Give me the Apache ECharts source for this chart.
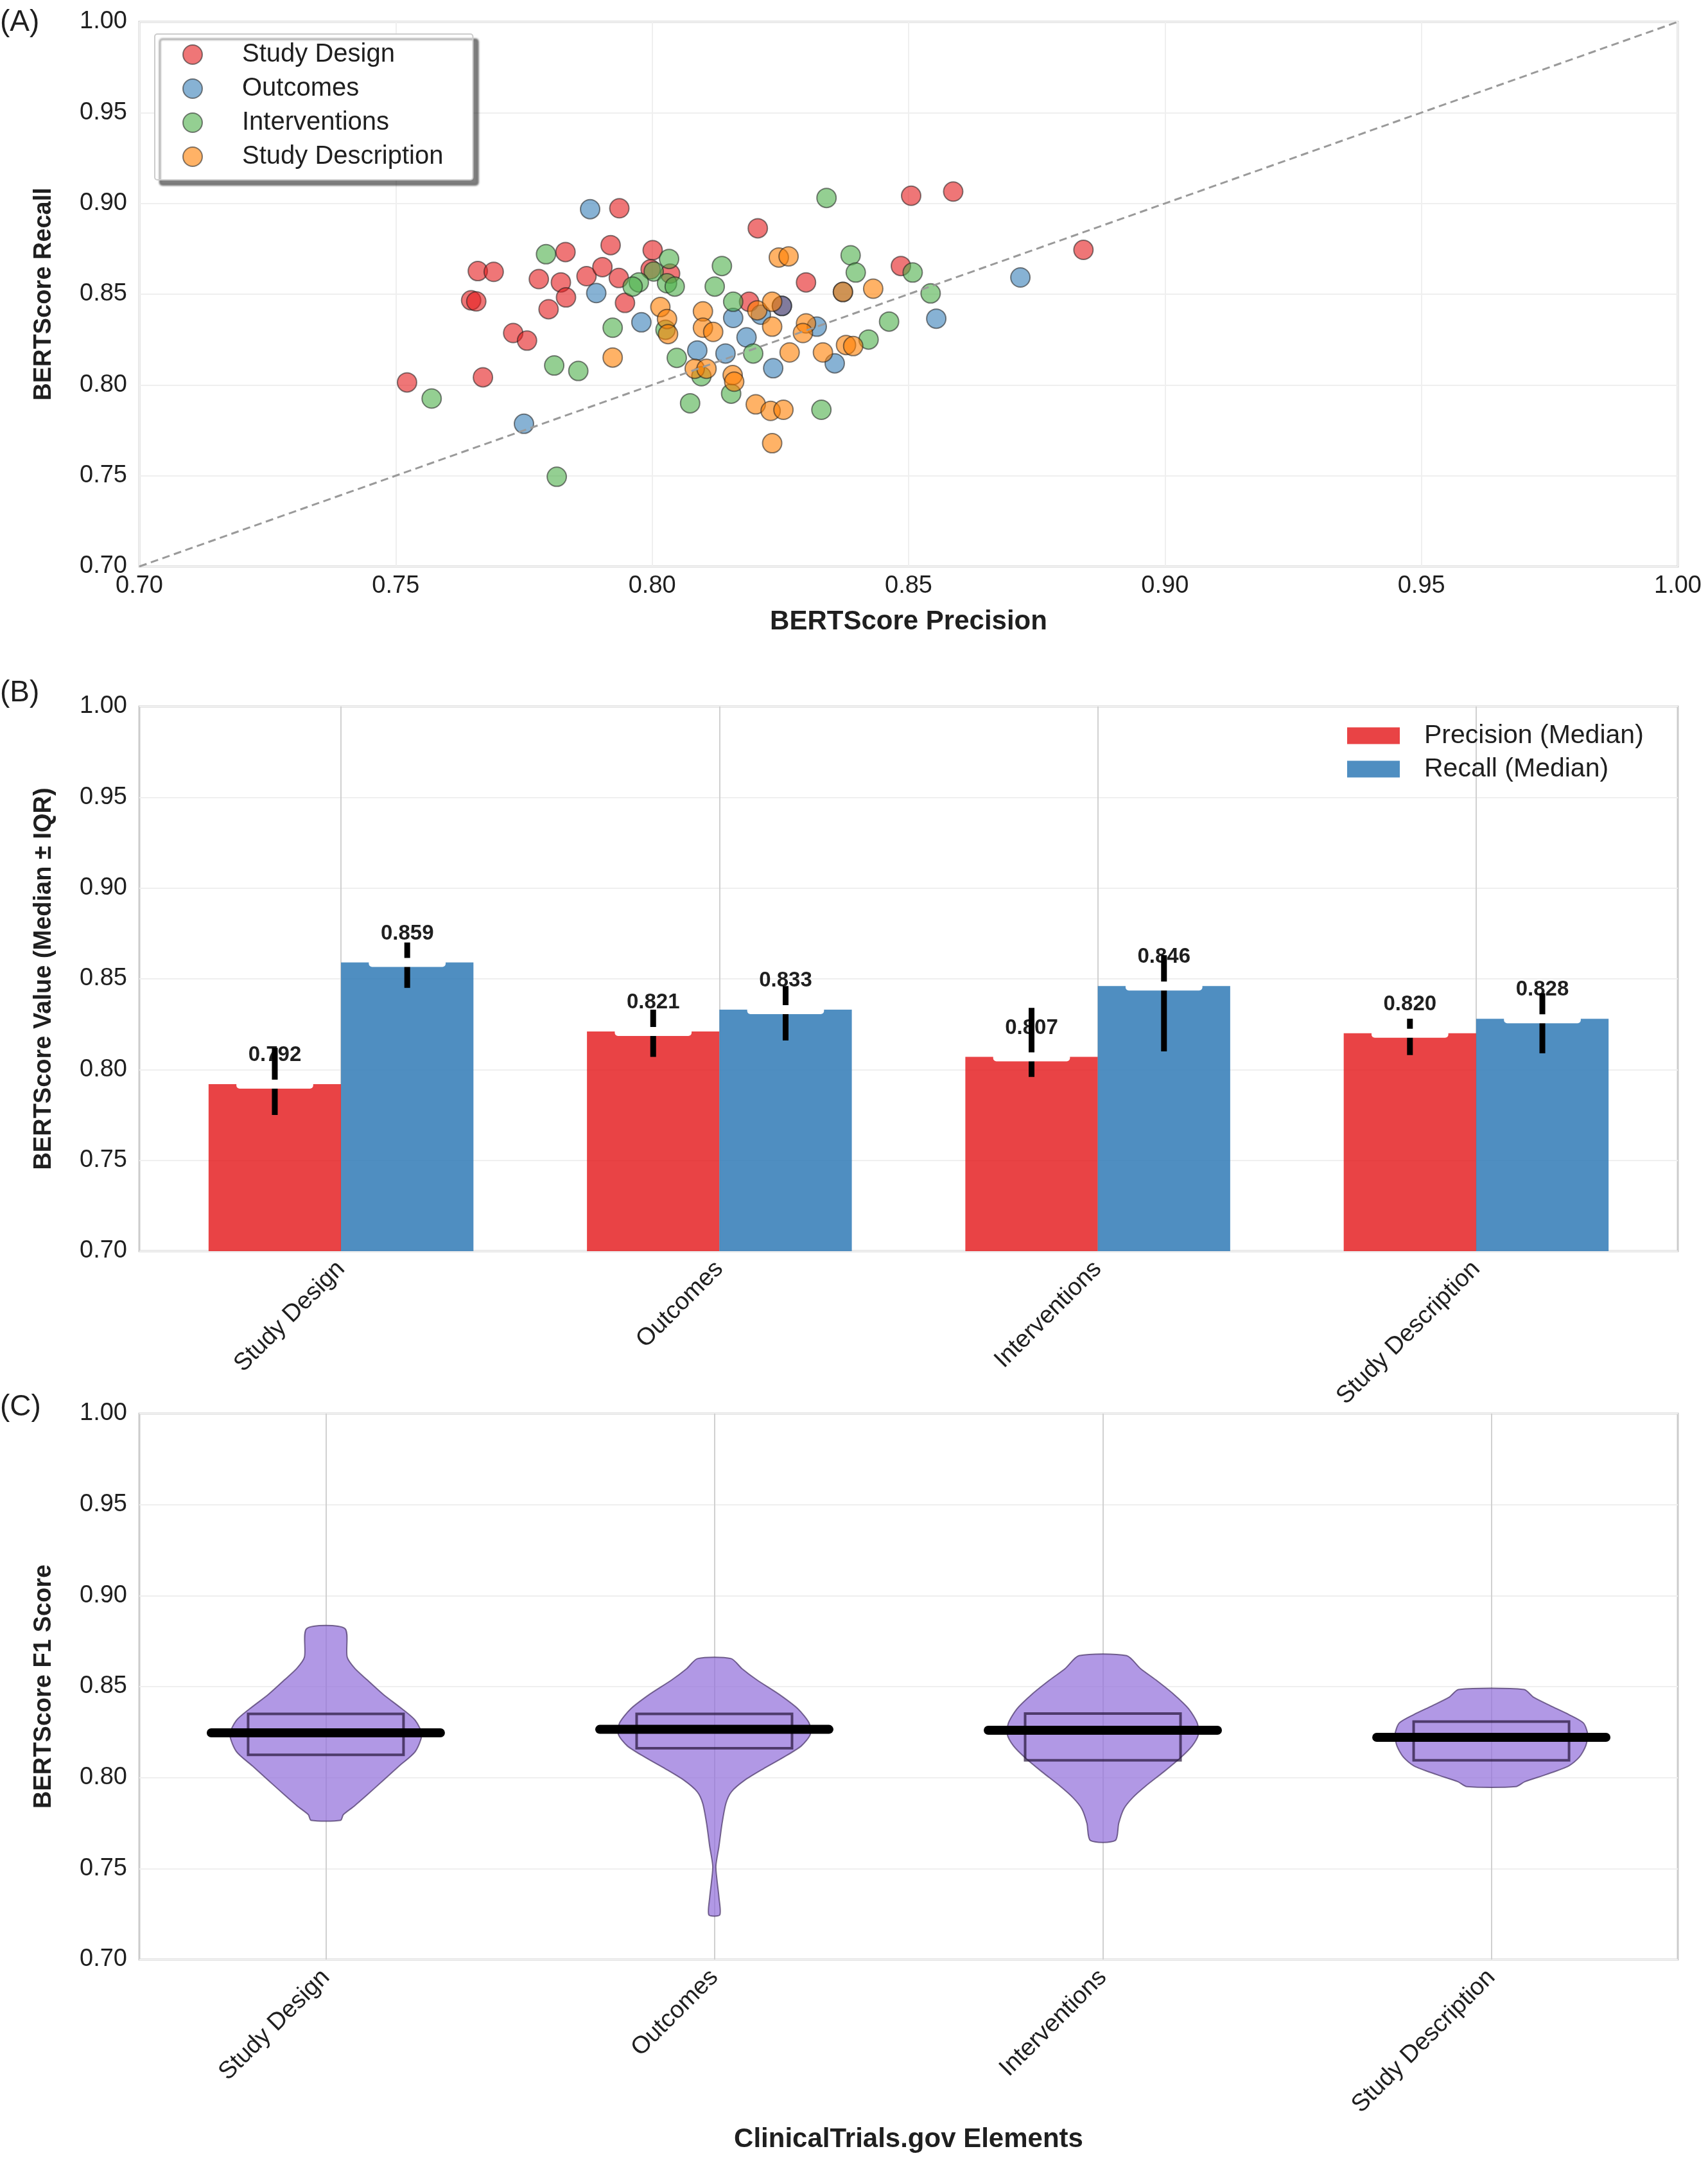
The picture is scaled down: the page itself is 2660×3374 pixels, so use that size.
<!DOCTYPE html>
<html>
<head>
<meta charset="utf-8">
<script src="https://cdn.jsdelivr.net/npm/echarts@6/dist/echarts.min.js"></script>
<style>
  html, body { margin: 0; padding: 0; background: #fff; }
  #chart { width: 2660px; height: 3374px; }
</style>
</head>
<body>
<div id="chart"></div>
<script>
// ---- (A) precision vs recall, one point per trial ----
const sdPrecision = [0.7936, 0.8206, 0.7831, 0.7919, 0.8001, 0.7660, 0.7691, 0.7779, 0.7822, 0.7872, 0.7903, 0.7935, 0.7997, 0.8035, 0.7647, 0.7657, 0.7832, 0.7798, 0.7947, 0.7729, 0.7756, 0.7670, 0.7522, 0.8300, 0.8189, 0.8253, 0.8505, 0.8587, 0.8841, 0.8485];
const sdRecall = [0.8973, 0.8863, 0.8732, 0.8770, 0.8742, 0.8627, 0.8623, 0.8583, 0.8565, 0.8599, 0.8649, 0.8589, 0.8637, 0.8613, 0.8466, 0.8460, 0.8482, 0.8417, 0.8452, 0.8286, 0.8244, 0.8042, 0.8014, 0.8565, 0.8458, 0.8435, 0.9042, 0.9065, 0.8744, 0.8655];
const outPrecision = [0.7879, 0.7891, 0.7979, 0.8088, 0.8143, 0.8158, 0.8184, 0.8212, 0.8236, 0.8253, 0.8321, 0.8356, 0.8372, 0.7750, 0.8718, 0.8554];
const outRecall = [0.8968, 0.8506, 0.8345, 0.8190, 0.8173, 0.8369, 0.8262, 0.8387, 0.8092, 0.8435, 0.8321, 0.8119, 0.8512, 0.7786, 0.8592, 0.8365];
const intPrecision = [0.8340, 0.7793, 0.8033, 0.8136, 0.8122, 0.8003, 0.7974, 0.7962, 0.8029, 0.8044, 0.8158, 0.7923, 0.8026, 0.8048, 0.8197, 0.7809, 0.7856, 0.8096, 0.8154, 0.8074, 0.8330, 0.7570, 0.7814, 0.8387, 0.8397, 0.8543, 0.8508, 0.8462, 0.8422];
const intRecall = [0.9030, 0.8720, 0.8694, 0.8655, 0.8542, 0.8625, 0.8565, 0.8542, 0.8560, 0.8542, 0.8458, 0.8315, 0.8304, 0.8149, 0.8173, 0.8107, 0.8077, 0.8048, 0.7952, 0.7899, 0.7863, 0.7925, 0.7494, 0.8714, 0.8619, 0.8504, 0.8619, 0.8349, 0.8250];
const descPrecision = [0.8016, 0.8029, 0.8031, 0.8099, 0.8099, 0.8119, 0.7923, 0.8083, 0.8106, 0.8157, 0.8160, 0.8205, 0.8234, 0.8234, 0.8247, 0.8266, 0.8300, 0.8294, 0.8268, 0.8333, 0.8378, 0.8392, 0.8372, 0.8202, 0.8231, 0.8256, 0.8234, 0.8431];
const descRecall = [0.8429, 0.8363, 0.8280, 0.8405, 0.8315, 0.8292, 0.8151, 0.8089, 0.8089, 0.8054, 0.8018, 0.8411, 0.8458, 0.8321, 0.8702, 0.8708, 0.8339, 0.8286, 0.8179, 0.8179, 0.8220, 0.8214, 0.8512, 0.7893, 0.7857, 0.7863, 0.7679, 0.8530];

// ---- (B) medians and IQR ----
const elements = ['Study Design', 'Outcomes', 'Interventions', 'Study Description'];
const precMedian = [0.792, 0.821, 0.807, 0.820];
const precQ1 = [0.775, 0.807, 0.796, 0.808];
const precQ3 = [0.812, 0.833, 0.834, 0.828];
const recMedian = [0.859, 0.833, 0.846, 0.828];
const recQ1 = [0.845, 0.816, 0.810, 0.809];
const recQ3 = [0.870, 0.846, 0.863, 0.842];

// ---- (C) F1 distribution: quartiles + density outline (half width, x units) ----
const f1Q1 = [0.8125, 0.8161, 0.8095, 0.8095];
const f1Median = [0.8246, 0.8265, 0.8260, 0.8221];
const f1Q3 = [0.8350, 0.8350, 0.8352, 0.8308];
const violinLevels = [
  [0.8819, 0.8662, 0.8599, 0.8536, 0.8457, 0.8378, 0.8315, 0.8237, 0.8142, 0.8064, 0.7985, 0.7906, 0.7843, 0.7796, 0.7765],
  [0.8654, 0.8599, 0.8536, 0.8457, 0.8378, 0.8300, 0.8237, 0.8174, 0.8111, 0.8048, 0.7985, 0.7922, 0.7859, 0.7749, 0.7623, 0.7513, 0.7434, 0.7340, 0.7245],
  [0.8670, 0.8599, 0.8536, 0.8457, 0.8378, 0.8300, 0.8237, 0.8174, 0.8111, 0.8032, 0.7953, 0.7890, 0.7828, 0.7749, 0.7654],
  [0.8484, 0.8441, 0.8394, 0.8347, 0.8300, 0.8237, 0.8174, 0.8111, 0.8064, 0.8016, 0.7977, 0.7950]
];
const violinDensity = [
  [0.049, 0.055, 0.075, 0.107, 0.148, 0.196, 0.230, 0.247, 0.230, 0.189, 0.148, 0.107, 0.073, 0.045, 0.038],
  [0.043, 0.071, 0.110, 0.167, 0.215, 0.244, 0.247, 0.224, 0.178, 0.126, 0.078, 0.044, 0.030, 0.020, 0.012, 0.004, 0.007, 0.012, 0.014],
  [0.061, 0.097, 0.137, 0.183, 0.221, 0.243, 0.246, 0.230, 0.201, 0.157, 0.110, 0.077, 0.054, 0.041, 0.032],
  [0.084, 0.109, 0.153, 0.199, 0.237, 0.248, 0.243, 0.226, 0.199, 0.140, 0.086, 0.063]
];

const FONT = 'Liberation Sans';
const TEXT = '#1f1f1f';
const BAR_HALF = 0.175;
const BOX_HALF = 0.2;
const MED_HALF = 0.295;

const zip = (xs, ys) => xs.map((x, i) => [x, ys[i]]);
const fmt2 = v => Number(v).toFixed(2);

function scatterSeries(name, color, xs, ys) {
  return {
    name: name,
    type: 'scatter',
    xAxisIndex: 0,
    yAxisIndex: 0,
    symbolSize: 30,
    itemStyle: { color: color, borderColor: 'rgba(30,30,30,0.55)', borderWidth: 2, opacity: 1 },
    data: zip(xs, ys)
  };
}

function renderBar(offset) {
  return function (params, api) {
    const c = api.value(0) + offset;
    const med = api.value(1);
    const tl = api.coord([c - BAR_HALF, med]);
    const br = api.coord([c + BAR_HALF, 0.7]);
    const w = br[0] - tl[0];
    const mid = (tl[0] + br[0]) / 2;
    const lo = api.coord([c, api.value(2)]);
    const hi = api.coord([c, api.value(3)]);
    return {
      type: 'group',
      children: [
        { type: 'rect', shape: { x: tl[0], y: tl[1], width: w, height: br[1] - tl[1] }, style: { fill: api.visual('color') } },
        { type: 'text', x: mid, y: tl[1] - 45, style: { text: med.toFixed(3), align: 'center', verticalAlign: 'middle', fontSize: 33, fontWeight: 'bold', fontFamily: FONT, fill: TEXT } },
        { type: 'line', shape: { x1: mid, y1: lo[1], x2: mid, y2: hi[1] }, style: { stroke: '#000', lineWidth: 9 } },
        { type: 'rect', shape: { x: mid - w * 0.29, y: tl[1] - 7, width: w * 0.58, height: 14, r: 5 }, style: { fill: '#fff' } }
      ]
    };
  };
}

function renderViolin(params, api) {
  const i = params.dataIndex;
  const c = api.value(0);
  const lv = violinLevels[i];
  const dens = violinDensity[i];
  const right = lv.map((v, k) => api.coord([c + dens[k], v]));
  const left = lv.map((v, k) => api.coord([c - dens[k], v])).reverse();
  const b1 = api.coord([c - BOX_HALF, api.value(3)]);
  const b2 = api.coord([c + BOX_HALF, api.value(1)]);
  const m1 = api.coord([c - MED_HALF, api.value(2)]);
  const m2 = api.coord([c + MED_HALF, api.value(2)]);
  return {
    type: 'group',
    children: [
      { type: 'polygon', shape: { points: right.concat(left), smooth: 0.25 }, style: { fill: 'rgba(147,112,219,0.72)', stroke: 'rgba(70,50,100,0.7)', lineWidth: 2 } },
      { type: 'rect', shape: { x: b1[0], y: b1[1], width: b2[0] - b1[0], height: b2[1] - b1[1] }, style: { fill: 'none', stroke: 'rgba(35,20,55,0.7)', lineWidth: 4 } },
      { type: 'line', shape: { x1: m1[0], y1: m1[1], x2: m2[0], y2: m2[1] }, style: { stroke: '#000', lineWidth: 14, lineCap: 'round' } }
    ]
  };
}

const tickLabel = { fontSize: 38, color: TEXT, fontFamily: FONT };
const nameStyle = { fontSize: 38, fontWeight: 'bold', color: TEXT, fontFamily: FONT };
const faintGrid = { show: true, lineStyle: { color: '#efefef', width: 2 } };

function valueY(gridIndex, name, gap) {
  return {
    type: 'value', gridIndex: gridIndex, min: 0.7, max: 1.0, interval: 0.05,
    name: name, nameLocation: 'middle', nameGap: gap, nameTextStyle: nameStyle,
    axisLine: { show: false }, axisTick: { show: false },
    axisLabel: Object.assign({ formatter: fmt2, margin: 19 }, tickLabel),
    splitLine: faintGrid
  };
}

function categoryX(gridIndex, min, max, name) {
  return {
    type: 'value', gridIndex: gridIndex, min: min, max: max,
    name: name, nameLocation: 'middle', nameGap: 259,
    nameTextStyle: Object.assign({}, nameStyle, { fontSize: 42 }),
    axisLine: { show: false },
    axisTick: { show: false, customValues: [0, 1, 2, 3] },
    axisLabel: Object.assign({ customValues: [0, 1, 2, 3], rotate: 45, margin: 22, formatter: v => elements[Math.round(v)] }, tickLabel),
    splitLine: { show: true, lineStyle: { color: '#d0d0d0', width: 2 } }
  };
}

const chart = echarts.init(document.getElementById('chart'), null, { renderer: 'canvas' });

const option = {
  backgroundColor: '#ffffff',
  animation: false,
  textStyle: { fontFamily: FONT },
  grid: [
    { left: 217, top: 34, width: 2396, height: 848, show: true, borderColor: '#cccccc', borderWidth: 3 },
    { left: 217, top: 1100, width: 2396, height: 848, show: true, borderColor: '#cccccc', borderWidth: 3 },
    { left: 217, top: 2201, width: 2396, height: 850, show: true, borderColor: '#cccccc', borderWidth: 3 }
  ],
  legend: [
    {
      data: ['Study Design', 'Outcomes', 'Interventions', 'Study Description'],
      orient: 'vertical', left: 241, top: 53,
      padding: [12, 46, 16, 43], itemGap: 13, itemWidth: 30, itemHeight: 30, icon: 'circle',
      backgroundColor: '#ffffff', borderColor: '#cccccc', borderWidth: 2, borderRadius: 4,
      shadowColor: 'rgba(0,0,0,0.5)', shadowBlur: 3, shadowOffsetX: 8, shadowOffsetY: 8,
      textStyle: { fontSize: 40, lineHeight: 40, color: TEXT, fontFamily: FONT, padding: [0, 0, 0, 57] }
    },
    {
      data: ['Precision (Median)', 'Recall (Median)'],
      orient: 'vertical', left: 2098, top: 1125,
      padding: 0, itemGap: 11, itemWidth: 82, itemHeight: 26, icon: 'rect',
      textStyle: { fontSize: 41, lineHeight: 40, color: TEXT, fontFamily: FONT, padding: [0, 0, 0, 33] }
    }
  ],
  xAxis: [
    {
      type: 'value', gridIndex: 0, min: 0.7, max: 1.0, interval: 0.05,
      name: 'BERTScore Precision', nameLocation: 'middle', nameGap: 65,
      nameTextStyle: Object.assign({}, nameStyle, { fontSize: 42 }),
      axisLine: { show: false }, axisTick: { show: false },
      axisLabel: Object.assign({ formatter: fmt2, margin: 12 }, tickLabel),
      splitLine: faintGrid
    },
    categoryX(1, -0.533, 3.533, ''),
    categoryX(2, -0.48, 3.48, 'ClinicalTrials.gov Elements')
  ],
  yAxis: [
    valueY(0, 'BERTScore Recall', 129),
    valueY(1, 'BERTScore Value (Median ± IQR)', 129),
    valueY(2, 'BERTScore F1 Score', 129)
  ],
  graphic: [
    { type: 'text', left: 0, top: 12, style: { text: '(A)', fontSize: 46, fill: TEXT, fontFamily: FONT } },
    { type: 'text', left: 0, top: 1056, style: { text: '(B)', fontSize: 46, fill: TEXT, fontFamily: FONT } },
    { type: 'text', left: 0, top: 2168, style: { text: '(C)', fontSize: 46, fill: TEXT, fontFamily: FONT } }
  ],
  series: [
    scatterSeries('Study Design', 'rgba(228,26,28,0.6)', sdPrecision, sdRecall),
    scatterSeries('Outcomes', 'rgba(55,126,184,0.6)', outPrecision, outRecall),
    scatterSeries('Interventions', 'rgba(77,175,74,0.6)', intPrecision, intRecall),
    scatterSeries('Study Description', 'rgba(255,127,0,0.6)', descPrecision, descRecall),
    {
      name: 'y = x', type: 'line', xAxisIndex: 0, yAxisIndex: 0, z: 5,
      symbol: 'none', data: [[0.7, 0.7], [1.0, 1.0]],
      lineStyle: { color: '#9a9a9a', width: 3, type: [12, 7] }
    },
    {
      name: 'Precision (Median)', type: 'custom', xAxisIndex: 1, yAxisIndex: 1,
      itemStyle: { color: 'rgba(228,26,28,0.82)' },
      renderItem: renderBar(-BAR_HALF),
      data: elements.map((_, i) => [i, precMedian[i], precQ1[i], precQ3[i]])
    },
    {
      name: 'Recall (Median)', type: 'custom', xAxisIndex: 1, yAxisIndex: 1,
      itemStyle: { color: 'rgba(55,126,184,0.88)' },
      renderItem: renderBar(BAR_HALF),
      data: elements.map((_, i) => [i, recMedian[i], recQ1[i], recQ3[i]])
    },
    {
      name: 'F1', type: 'custom', xAxisIndex: 2, yAxisIndex: 2,
      itemStyle: { color: 'rgba(147,112,219,0.72)' },
      renderItem: renderViolin,
      data: elements.map((_, i) => [i, f1Q1[i], f1Median[i], f1Q3[i]])
    }
  ]
};

chart.setOption(option);
window.addEventListener('resize', () => chart.resize());
</script>
</body>
</html>
